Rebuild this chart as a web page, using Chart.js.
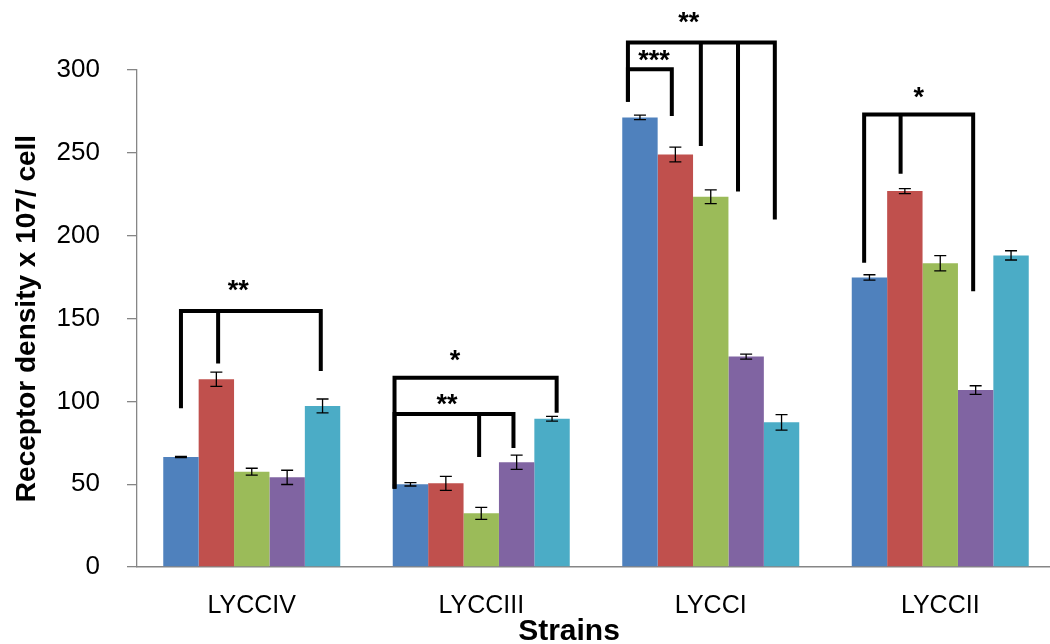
<!DOCTYPE html>
<html>
<head>
<meta charset="utf-8">
<script src="https://cdn.jsdelivr.net/npm/chart.js@4.4.1/dist/chart.umd.min.js"></script>
<style>
    html, body { margin: 0; padding: 0; background: #fff; overflow: hidden; }
    #wrap { width: 1060px; height: 644px; }
</style>
</head>
<body>
<div id="wrap"><canvas id="chart" width="1060" height="644" style="width:1060px;height:644px"></canvas></div>
<script>
const strains = ['LYCCIV', 'LYCCIII', 'LYCCI', 'LYCCII'];

const blueVals   = [66.4, 49.9, 271.4, 174.8];
const redVals    = [113.3, 50.5, 249.0, 226.9];
const greenVals  = [57.5, 32.4, 223.5, 183.3];
const purpleVals = [54.1, 63.2, 127.0, 106.8];
const cyanVals   = [97.2, 89.5, 87.3, 188.1];

const blueErr   = [0.3, 1.0, 1.4, 1.6];
const redErr    = [4.3, 4.2, 4.5, 1.5];
const greenErr  = [2.1, 3.6, 4.2, 4.6];
const purpleErr = [4.3, 4.3, 1.5, 2.6];
const cyanErr   = [4.2, 1.4, 4.7, 2.8];

const yTicks = [0, 50, 100, 150, 200, 250, 300];

// significance brackets: group, top value, leg slots (bar index units), leg end values
const bracketGroups = [0, 1, 1, 2, 2, 3];
const bracketTops = [154.5, 114.3, 92.4, 316.6, 300.4, 273.2];
const bracketLegs = [[0, 1.05, 3.95], [-0.45, 4.13], [-0.45, 1.94, 2.91], [-0.34, 1.72, 2.77, 3.81], [-0.34, 0.9], [-0.15, 0.88, 2.93]];
const bracketLegEnds = [[97, 124, 119.5], [48.5, 94.3], [48.5, 67.6, 73], [282, 255.3, 227.8, 210.9], [282, 273.4], [184.9, 238.6, 167.6]];
const bracketLabels = ['**', '*', '**', '**', '***', '*'];
const bracketLabelSlots = [1.62, 1.26, 1.03, 1.38, 0.4, 1.39];
const bracketLabelVals = [171.2, 129, 102.4, 332.8, 310.1, 287.9];

const colors = ['#4F81BD', '#C0504D', '#9BBB59', '#8064A2', '#4BACC6'];
const seriesVals = [blueVals, redVals, greenVals, purpleVals, cyanVals];
const seriesErr = [blueErr, redErr, greenErr, purpleErr, cyanErr];

const errorBars = {
    id: 'errorBars',
    afterDatasetsDraw(chart) {
        const ctx = chart.ctx;
        const y = chart.scales.y;
        ctx.save();
        ctx.strokeStyle = '#000';
        ctx.lineWidth = 1.3;
        chart.data.datasets.forEach((ds, di) => {
            const meta = chart.getDatasetMeta(di);
            meta.data.forEach((bar, i) => {
                const v = ds.data[i];
                const e = seriesErr[di][i];
                const top = y.getPixelForValue(v + e);
                const bot = y.getPixelForValue(v - e);
                ctx.beginPath();
                ctx.moveTo(bar.x, top); ctx.lineTo(bar.x, bot);
                ctx.moveTo(bar.x - 6, top); ctx.lineTo(bar.x + 6, top);
                ctx.moveTo(bar.x - 6, bot); ctx.lineTo(bar.x + 6, bot);
                ctx.stroke();
            });
        });
        ctx.restore();
    }
};

const brackets = {
    id: 'brackets',
    afterDraw(chart) {
        const ctx = chart.ctx;
        const y = chart.scales.y;
        const m0 = chart.getDatasetMeta(0).data;
        const m1 = chart.getDatasetMeta(1).data;
        ctx.save();
        ctx.strokeStyle = '#000';
        ctx.fillStyle = '#000';
        ctx.lineWidth = 4;
        ctx.lineCap = 'square';
        bracketGroups.forEach((g, b) => {
            const x0 = m0[g].x;
            const step = m1[g].x - m0[g].x;
            const legs = bracketLegs[b];
            const topY = y.getPixelForValue(bracketTops[b]);
            ctx.beginPath();
            ctx.moveTo(x0 + legs[0] * step, topY);
            ctx.lineTo(x0 + legs[legs.length - 1] * step, topY);
            legs.forEach((s, k) => {
                ctx.moveTo(x0 + s * step, topY);
                ctx.lineTo(x0 + s * step, y.getPixelForValue(bracketLegEnds[b][k]));
            });
            ctx.stroke();
            ctx.font = 'bold 27px "Liberation Sans"';
            ctx.textAlign = 'center';
            ctx.textBaseline = 'alphabetic';
            ctx.fillText(bracketLabels[b], x0 + bracketLabelSlots[b] * step, y.getPixelForValue(bracketLabelVals[b]) + 0.58 * 27);
        });

        // x axis title sits a little left of the plot centre in the original
        const area = chart.chartArea;
        ctx.font = 'bold 30px "Liberation Sans"';
        ctx.textAlign = 'center';
        ctx.textBaseline = 'alphabetic';
        ctx.fillText('Strains', (area.left + area.right) / 2 - 27, 640);
        ctx.restore();
    }
};

new Chart(document.getElementById('chart'), {
    type: 'bar',
    data: {
        labels: strains,
        datasets: seriesVals.map((vals, i) => ({
            label: 'Series' + (i + 1),
            data: vals,
            backgroundColor: colors[i],
            borderWidth: 0,
            categoryPercentage: 0.7712,
            barPercentage: 1
        }))
    },
    options: {
        responsive: false,
        animation: false,
        devicePixelRatio: 1,
        layout: { padding: { top: 70, right: 5, bottom: 0, left: 0 } },
        plugins: { legend: { display: false }, tooltip: { enabled: false } },
        scales: {
            x: {
                grid: { display: false, drawTicks: false },
                border: { color: '#868686', width: 1.5 },
                ticks: { color: '#000', padding: 24, font: { family: 'Liberation Sans', size: 25 } },
                afterFit(scale) { scale.height = 77; }
            },
            y: {
                min: 0, max: 300,
                afterBuildTicks(scale) { scale.ticks = yTicks.map(v => ({ value: v })); },
                grid: { drawOnChartArea: false, tickLength: 10, color: '#868686', lineWidth: 1.3 },
                border: { color: '#868686', width: 1.3 },
                ticks: { color: '#000', padding: 27, font: { family: 'Liberation Sans', size: 26 } },
                title: {
                    display: true, text: 'Receptor density x 107/ cell', color: '#000',
                    font: { family: 'Liberation Sans', size: 28, weight: 'bold' },
                    padding: { top: 10, bottom: 0 }
                },
                afterFit(scale) { scale.width = 137; }
            }
        }
    },
    plugins: [errorBars, brackets]
});
</script>
</body>
</html>
